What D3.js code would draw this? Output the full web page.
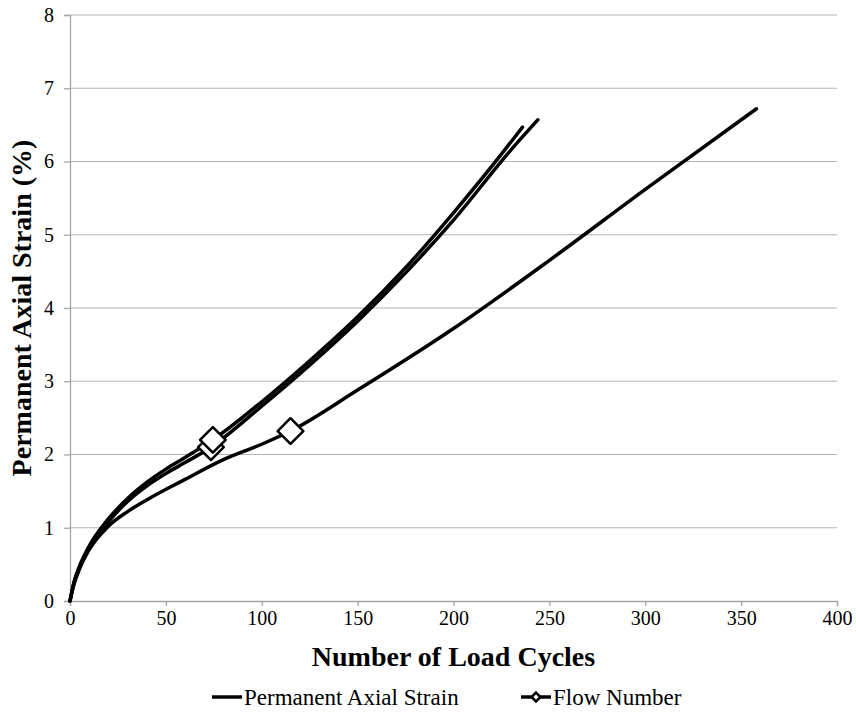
<!DOCTYPE html>
<html>
<head>
<meta charset="utf-8">
<script src="https://cdn.jsdelivr.net/npm/d3@7"></script>
<style>
  body { margin: 0; background: #fff; }
</style>
</head>
<body>
<div id="chart"></div>
<script>
// cycles / strain readings for the three specimens
let cyclesA = [0, 2, 5, 10, 20, 30, 40, 50, 60, 74.5, 100, 125, 150, 175, 200, 225, 236];
let strainA = [0, 0.25, 0.48, 0.75, 1.12, 1.4, 1.62, 1.8, 1.96, 2.2, 2.72, 3.28, 3.88, 4.55, 5.3, 6.1, 6.47];
let cyclesB = [0, 2, 5, 10, 20, 30, 40, 50, 60, 73.5, 100, 125, 150, 175, 200, 230, 244];
let strainB = [0, 0.24, 0.46, 0.72, 1.08, 1.36, 1.57, 1.74, 1.89, 2.1, 2.66, 3.22, 3.82, 4.48, 5.2, 6.16, 6.57];
let cyclesC = [0, 2, 5, 10, 20, 30, 40, 60, 80, 100, 115, 150, 200, 250, 300, 358];
let strainC = [0, 0.22, 0.44, 0.7, 1.02, 1.22, 1.38, 1.66, 1.93, 2.14, 2.32, 2.88, 3.72, 4.65, 5.62, 6.72];

// flow number points
let flowCycles = [73.5, 74.5, 115];
let flowStrain = [2.1, 2.2, 2.32];

let xTicks = [0, 50, 100, 150, 200, 250, 300, 350, 400];
let yTicks = [0, 1, 2, 3, 4, 5, 6, 7, 8];

let seriesNames = ['Permanent Axial Strain', 'Flow Number'];

let FONT = "'Liberation Serif', 'Times New Roman', serif";

let margin = { top: 15, right: 19, bottom: 112, left: 70 };
let width = 856 - margin.left - margin.right;
let height = 713 - margin.top - margin.bottom;

let svg = d3.select('#chart')
  .append('svg')
  .attr('width', 856)
  .attr('height', 713);

let g = svg.append('g')
  .attr('transform', 'translate(' + margin.left + ',' + margin.top + ')');

let x = d3.scaleLinear().domain([0, 400]).range([0, width]);
let y = d3.scaleLinear().domain([0, 8]).range([height, 0]);

// gridlines
g.append('g')
  .selectAll('line')
  .data(yTicks.slice(1))
  .enter().append('line')
  .attr('x1', 0)
  .attr('x2', width)
  .attr('y1', d => y(d))
  .attr('y2', d => y(d))
  .attr('stroke', '#b3b3b3')
  .attr('stroke-width', 1.2);

let xAxis = g.append('g')
  .attr('transform', 'translate(0,' + height + ')')
  .call(d3.axisBottom(x).tickValues(xTicks).tickSize(5).tickPadding(5));

let yAxis = g.append('g')
  .call(d3.axisLeft(y).tickValues(yTicks).tickSize(6).tickPadding(10));

[xAxis, yAxis].forEach(ax => {
  ax.attr('font-family', FONT).attr('font-size', 20);
  ax.select('.domain').attr('stroke', '#a6a6a6').attr('stroke-width', 1.3);
  ax.selectAll('.tick line').attr('stroke', '#a6a6a6').attr('stroke-width', 1.3);
  ax.selectAll('.tick text').attr('fill', '#000');
});

let line = d3.line()
  .x(d => x(d[0]))
  .y(d => y(d[1]))
  .curve(d3.curveMonotoneX);

let curves = [
  d3.zip(cyclesC, strainC),
  d3.zip(cyclesB, strainB),
  d3.zip(cyclesA, strainA)
];

g.append('g')
  .selectAll('path')
  .data(curves)
  .enter().append('path')
  .attr('d', line)
  .attr('fill', 'none')
  .attr('stroke', '#000')
  .attr('stroke-width', 3.5)
  .attr('stroke-linecap', 'round')
  .attr('stroke-linejoin', 'round');

let diamond = d3.symbol().type(d3.symbolDiamond2).size(420);

g.append('g')
  .selectAll('path')
  .data(d3.zip(flowCycles, flowStrain))
  .enter().append('path')
  .attr('d', diamond)
  .attr('transform', d => 'translate(' + x(d[0]) + ',' + y(d[1]) + ')')
  .attr('fill', '#fff')
  .attr('stroke', '#000')
  .attr('stroke-width', 2.5)
  .attr('stroke-linejoin', 'round');

// axis titles
svg.append('text')
  .attr('x', margin.left + width / 2)
  .attr('y', 666)
  .attr('text-anchor', 'middle')
  .attr('font-family', FONT)
  .attr('font-size', 28)
  .attr('font-weight', 'bold')
  .text('Number of Load Cycles');

svg.append('text')
  .attr('transform', 'translate(31,' + (margin.top + height / 2) + ') rotate(-90)')
  .attr('text-anchor', 'middle')
  .attr('font-family', FONT)
  .attr('font-size', 28)
  .attr('font-weight', 'bold')
  .text('Permanent Axial Strain (%)');

// legend
let legend = svg.append('g')
  .attr('transform', 'translate(0,705)')
  .attr('font-family', FONT)
  .attr('font-size', 23);

legend.append('line')
  .attr('x1', 212).attr('x2', 242)
  .attr('y1', -8).attr('y2', -8)
  .attr('stroke', '#000').attr('stroke-width', 3.5);
legend.append('text')
  .attr('x', 244).attr('y', 0)
  .text(seriesNames[0]);

legend.append('line')
  .attr('x1', 521).attr('x2', 551)
  .attr('y1', -8).attr('y2', -8)
  .attr('stroke', '#000').attr('stroke-width', 3.5);
legend.append('path')
  .attr('d', d3.symbol().type(d3.symbolDiamond2).size(50))
  .attr('transform', 'translate(536,-8)')
  .attr('fill', '#fff')
  .attr('stroke', '#000')
  .attr('stroke-width', 2.5);
legend.append('text')
  .attr('x', 553).attr('y', 0)
  .text(seriesNames[1]);
</script>
</body>
</html>
